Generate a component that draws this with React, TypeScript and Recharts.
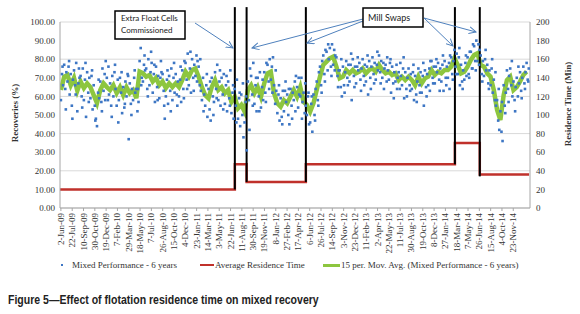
import React from "react";
import {
  ComposedChart,
  Scatter,
  Line,
  XAxis,
  YAxis,
  CartesianGrid,
  ReferenceLine,
} from "recharts";

// tick labels, one every 50 days from 2-Jun-09
const DATE_TICKS = [
  "2-Jun-09", "22-Jul-09", "10-Sep-09", "30-Oct-09", "19-Dec-09", "7-Feb-10", "29-Mar-10",
  "18-May-10", "7-Jul-10", "26-Aug-10", "15-Oct-10", "4-Dec-10", "23-Jan-11", "14-Mar-11",
  "3-May-11", "22-Jun-11", "11-Aug-11", "30-Sep-11", "19-Nov-11", "8-Jan-12", "27-Feb-12",
  "17-Apr-12", "6-Jun-12", "26-Jul-12", "14-Sep-12", "3-Nov-12", "23-Dec-12", "11-Feb-13",
  "2-Apr-13", "22-May-13", "11-Jul-13", "30-Aug-13", "19-Oct-13", "8-Dec-13", "27-Jan-14",
  "18-Mar-14", "7-May-14", "26-Jun-14", "15-Aug-14", "4-Oct-14", "23-Nov-14",
];
const TICK_STEP = 50;

// 15 per. moving average, read every ~14.5 days
const MOV_AVG = [
  63.4, 70.6, 71.5, 66, 70, 63, 68, 64.5, 67, 65, 60.7, 56.4, 63.4, 67, 65, 63.4, 66, 61.8,
  65, 60.7, 65, 61.8, 63.4, 59, 73.3, 72.5, 70.6, 71.5, 68, 70, 66, 68, 64.5, 67, 65,
  67, 65, 68.8, 73.3, 70.6, 74.2, 75, 70.6, 65, 60.7, 59, 65, 68.8, 63.4, 65, 61.7, 63.4, 57,
  59.8, 53.6, 55.4, 51.8, 63.4, 66, 61.7, 65, 59.8, 67, 72.4, 73.3, 61.7, 56.3, 54.5, 58, 56.3, 59.8,
  63.4, 59.8, 65, 57, 55.4, 51.8, 56.3, 63.4, 70.6, 76.9, 78.7, 80.5, 81.4, 76, 69.7, 70.6, 74.2,
  72.4, 74.2, 72.4, 73.3, 75, 72.4, 74.2, 75, 73.3, 76.9, 74.2, 72.4, 73.3, 71.5, 72.4, 68.8, 70.6,
  68.8, 70.6,
  68.8, 66, 70.6, 67, 69.7, 70.6, 74.2, 71.5, 73.3, 72.4, 74.2, 74.2, 76, 80.5, 76.9, 72.4, 73.3,
  76, 79.6, 82.3, 83.2, 76.9, 76, 72.4, 70.6, 63.4, 52.7, 47.3, 60.7, 68.8, 70.6, 63.4, 65, 68,
  71.5, 73.3,
];
const MA_STEP = 14.5;

// Mixed Performance - 6 years (recovery %), three readings per MA step
const RECOVERY = [
  58, 72, 66, 77, 64, 73, 68, 76, 61, 72, 55, 69, 74, 66, 78, 52, 67, 70, 71, 60, 75, 58, 69, 49,
  73, 62, 70, 59, 71, 53, 66, 55, 48, 44, 62, 59, 68, 57, 75, 63, 72, 79, 70, 58, 61, 67, 55, 71,
  60, 73, 64, 55, 69, 58, 70, 62, 51, 65, 54, 68, 60, 72, 37, 67, 56, 64, 58, 70, 62, 64, 52, 57,
  79, 86, 70, 68, 77, 74, 75, 64, 80, 66, 73, 78, 62, 72, 57, 76, 65, 71, 59, 70, 73, 72, 63, 48,
  60, 69, 56, 71, 63, 75, 58, 70, 62,
  72, 61, 68, 60, 69, 57, 74, 64, 79, 78, 69, 83, 66, 75, 62, 80, 70, 77, 71, 82, 79, 76, 66, 63,
  58, 70, 61, 55, 66, 49, 64, 53, 47, 70, 60, 57, 73, 64, 77, 58, 68, 55, 70, 61, 72, 56, 66, 52,
  68, 59, 74, 51, 62, 48, 64, 55, 69, 48, 59, 44, 61, 50, 38, 46, 57, 31, 68, 58, 75, 71, 61, 78,
  56, 66, 52, 70, 60, 73, 54, 65, 58, 73, 62, 78, 77, 68, 80, 69, 76, 81, 66, 56, 63, 51, 61, 47,
  59, 49, 63, 52, 63, 57, 61, 50, 45, 64, 55, 62,
  58, 68, 71, 65, 54, 61, 60, 70, 57, 62, 51, 55, 50, 60, 45, 46, 56, 41, 61, 50, 64, 68, 58, 73,
  76, 66, 79, 82, 72, 85, 84, 74, 80, 86, 76, 88, 77, 85, 82, 81, 71, 74, 74, 65, 60, 76, 66, 73,
  79, 70, 77, 68, 77, 58, 80, 71, 76, 67, 76, 74, 78, 69, 75, 80, 71, 77, 68, 76, 61, 79, 70, 76,
  81, 72, 78, 69, 77, 74, 82, 73, 79, 70, 78, 75, 77, 68, 74, 69, 78, 62, 76, 67, 73, 68, 77, 70,
  73, 64, 71, 66, 75, 59, 73, 64, 70, 75, 66, 72,
  64, 73, 58, 71, 61, 68, 75, 66, 73, 62, 71, 55, 74, 65, 72, 66, 75, 79, 79, 70, 76, 67, 76, 73,
  78, 69, 75, 68, 77, 63, 79, 70, 76, 70, 78, 82, 81, 72, 79, 85, 76, 83, 72, 81, 66, 77, 68, 74,
  69, 78, 71, 81, 72, 84, 84, 75, 88, 87, 79, 90, 79, 88, 85, 82, 72, 79, 71, 80, 74, 77, 67, 74,
  66, 75, 62, 69, 58, 55, 58, 47, 42, 52, 41, 36, 66, 55, 62, 74, 64, 71, 75, 66, 60, 68, 58, 65,
  70, 60, 67, 73, 63, 70, 76, 67, 73, 78, 69, 75,
];
const RECOVERY_STEP = MA_STEP / 3;

// outer readings of the same series, one per MA step, half a step later
const RECOVERY_OUTER = [
  76, 53, 79, 48, 61, 75, 54, 78, 57, 74, 47, 69, 52, 58, 76, 49, 77, 46, 73, 56, 71, 50, 74, 64,
  66, 82, 60, 84, 77, 58, 79, 55, 74, 52, 78,
  55, 76, 59, 64, 84, 63, 68, 80, 52, 72, 68, 50, 59, 74, 53, 71, 55, 66, 46, 62, 67, 60, 42, 55,
  70, 52, 69, 57, 64, 62, 74, 66, 45, 68, 64, 48,
  52, 70, 48, 67, 62, 60, 47, 55, 62, 68, 88, 71, 74, 65, 80, 62, 66, 83, 65, 81, 63, 66, 82, 64,
  67, 84, 67, 64, 81, 80, 59, 64, 78, 81, 60, 63,
  77, 57, 62, 78, 60, 63, 67, 80, 63, 82, 66, 64, 69, 72, 86, 64, 82, 70, 75, 74, 77, 68, 85, 64,
  80, 73, 64, 57, 51, 57, 79, 52, 76, 59, 64, 68,
];

// Average residence time (min), step changes at the mill swap dates
const RES_DAYS = [-4, 769, 821, 1083, 1742, 1852, 2070];
const RES_TIME = [20, 47, 28, 47, 70, 36, 36];

// black markers at the swaps, drawn down to the lower residence level
const SWAP_DAYS = [769, 821, 1083, 1742, 1852];
const SWAP_LOW = [20, 28, 28, 47, 34];

const recData = [
  ...RECOVERY.map((v, i) => ({ day: i * RECOVERY_STEP, rec: v })),
  ...RECOVERY_OUTER.map((v, i) => ({ day: i * MA_STEP + MA_STEP / 2, rec: v })),
];
const maData = MOV_AVG.map((v, i) => ({ day: i * MA_STEP, ma: v }));
const resData = RES_DAYS.map((d, i) => ({ day: d, rt: RES_TIME[i] }));

const SERIF = "'Liberation Serif', 'Times New Roman', serif";

const DateTick = ({ x, y, payload }: any) => (
  <text
    x={x}
    y={y}
    dy={3}
    transform={`rotate(-90 ${x} ${y})`}
    textAnchor="end"
    fontSize={9}
    fontFamily={SERIF}
    fill="#333"
  >
    {DATE_TICKS[Math.round(payload.value / TICK_STEP)]}
  </text>
);

const Dot = (props: any) => (
  <rect x={props.cx - 1.3} y={props.cy - 1.3} width={2.6} height={2.6} fill="#3d76c4" />
);

export default function App() {
  return (
    <div style={{ position: "absolute", left: 0, top: 0, width: 580, height: 314, background: "#fff" }}>
      <ComposedChart width={580} height={260} margin={{ top: 22, right: 0, bottom: 0, left: 0 }}>
        <CartesianGrid vertical={false} stroke="#d9d9d9" yAxisId="left" />
        <XAxis
          type="number"
          dataKey="day"
          domain={[-4, 2074]}
          allowDataOverflow
          ticks={DATE_TICKS.map((_, i) => i * TICK_STEP)}
          interval={0}
          tick={<DateTick />}
          tickSize={3}
          tickMargin={2}
          height={52}
          stroke="#a6a6a6"
        />
        <YAxis
          yAxisId="left"
          domain={[0, 100]}
          ticks={[0, 10, 20, 30, 40, 50, 60, 70, 80, 90, 100]}
          tickFormatter={(v: number) => v.toFixed(2)}
          width={60}
          tickSize={0}
          tickMargin={5}
          stroke="#a6a6a6"
          tick={{ fontSize: 9, fontFamily: SERIF, fill: "#333" }}
        />
        <YAxis
          yAxisId="right"
          orientation="right"
          domain={[0, 200]}
          ticks={[0, 20, 40, 60, 80, 100, 120, 140, 160, 180, 200]}
          width={50}
          tickSize={0}
          tickMargin={6}
          stroke="#a6a6a6"
          tick={{ fontSize: 9, fontFamily: SERIF, fill: "#333", textAnchor: "start" }}
        />
        <Line
          data={resData}
          dataKey="rt"
          yAxisId="right"
          type="stepAfter"
          stroke="#c0312b"
          strokeWidth={2.5}
          dot={false}
          isAnimationActive={false}
        />
        <Scatter data={recData} dataKey="rec" yAxisId="left" shape={<Dot />} isAnimationActive={false} />
        <Line
          data={maData}
          dataKey="ma"
          yAxisId="left"
          type="linear"
          stroke="#8dc63f"
          strokeWidth={4.5}
          dot={false}
          isAnimationActive={false}
        />
        {SWAP_DAYS.map((d, i) => (
          <ReferenceLine
            key={d}
            yAxisId="right"
            segment={[{ x: d, y: 216 }, { x: d, y: SWAP_LOW[i] }]}
            stroke="#000"
            strokeWidth={2}
            ifOverflow="visible"
          />
        ))}
      </ComposedChart>

      {/* annotations, axis titles */}
      <svg width={580} height={314} style={{ position: "absolute", left: 0, top: 0, pointerEvents: "none" }}>
        <defs>
          <marker id="arr" markerWidth="8" markerHeight="8" refX="7" refY="4" orient="auto" markerUnits="userSpaceOnUse">
            <path d="M0,0.5 L7,4 L0,7.5" fill="none" stroke="#4f81bd" strokeWidth="1" />
          </marker>
        </defs>
        <text transform="rotate(-90 15 113)" x={15} y={113} dy={3} textAnchor="middle" fontSize={9} fontWeight="bold" fontFamily={SERIF} fill="#333">
          Recoveries (%)
        </text>
        <text transform="rotate(-90 568 104)" x={568} y={104} dy={3} textAnchor="middle" fontSize={9} fontWeight="bold" fontFamily={SERIF} fill="#333">
          Residence Time (Min)
        </text>
        <g stroke="#4f81bd" strokeWidth={1} fill="none" markerEnd="url(#arr)">
          <line x1={195} y1={23} x2={233} y2={48} />
          <line x1={363} y1={19} x2={252} y2={48} />
          <line x1={363} y1={21} x2={307} y2={43} />
          <line x1={424} y1={18} x2={453} y2={46} />
          <line x1={424} y1={18} x2={476} y2={32} />
        </g>
        <rect x={115} y={11} width={70} height={28} fill="#fff" stroke="#000" strokeWidth={1.5} />
        <text x={121} y={20.5} fontSize={8} fontFamily="Lato, sans-serif" fill="#222">Extra Float Cells</text>
        <text x={121} y={32.5} fontSize={8} fontFamily="Lato, sans-serif" fill="#222">Commissioned</text>
        <rect x={363} y={8} width={60} height={19} fill="#fff" stroke="#000" strokeWidth={1.5} />
        <text x={368} y={20.5} fontSize={9} fontFamily="Lato, sans-serif" fill="#222">Mill Swaps</text>
      </svg>

      {/* legend */}
      <div style={{ position: "absolute", top: 259, left: 0, width: 580, height: 14, fontFamily: SERIF, fontSize: 9, color: "#333" }}>
        <div style={{ position: "absolute", left: 61, top: 5, width: 2.4, height: 2.4, background: "#3d76c4" }} />
        <span style={{ position: "absolute", left: 72, top: 1 }}>Mixed Performance - 6 years</span>
        <div style={{ position: "absolute", left: 200, top: 5, width: 14, height: 2, background: "#c0312b" }} />
        <span style={{ position: "absolute", left: 215, top: 1 }}>Average Residence Time</span>
        <div style={{ position: "absolute", left: 323, top: 4.5, width: 17, height: 3, background: "#8dc63f" }} />
        <span style={{ position: "absolute", left: 341, top: 1 }}>15 per. Mov. Avg. (Mixed Performance - 6 years)</span>
      </div>

      <div
        style={{
          position: "absolute",
          left: 8,
          top: 292,
          fontFamily: "'Liberation Sans', Arial, sans-serif",
          fontWeight: "bold",
          fontSize: 13,
          color: "#222",
          whiteSpace: "nowrap",
          transform: "scaleX(0.81)",
          transformOrigin: "left top",
        }}
      >
        Figure 5—Effect of flotation residence time on mixed recovery
      </div>
    </div>
  );
}
